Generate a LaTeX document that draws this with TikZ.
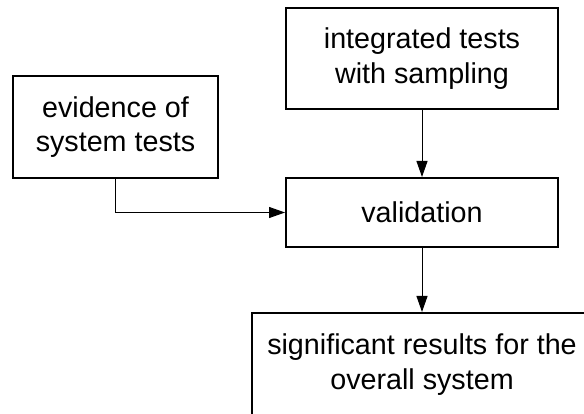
\documentclass[tikz,border=0pt]{standalone}
\usepackage{fontspec}
\setmainfont{Liberation Sans}
\usetikzlibrary{arrows.meta}
\begin{document}
\begin{tikzpicture}[x=1pt,y=-1pt,box/.style={draw,line width=2pt,inner sep=0pt,align=center,font=\fontsize{28.7}{34.5}\selectfont},arr/.style={-{Triangle[length=16pt,width=11pt]},line width=1pt}]
\clip (0,0) rectangle (584,414);
\node[box,minimum width=272pt,minimum height=101pt] (intg) at (422,58.5) {integrated tests\\with sampling};
\node[box,minimum width=205pt,minimum height=102pt] (evid) at (115.5,127) {evidence of\\system tests};
\node[box,minimum width=272pt,minimum height=69pt] (valid) at (422,212.5) {validation};
\node[box,minimum width=340pt,minimum height=103pt] (res) at (422,364.5) {significant results for the\\overall system};
\draw[arr](intg)--(valid);
\draw[arr](evid.south)|-(valid.west);
\draw[arr](valid)--(res);
\end{tikzpicture}
\end{document}
